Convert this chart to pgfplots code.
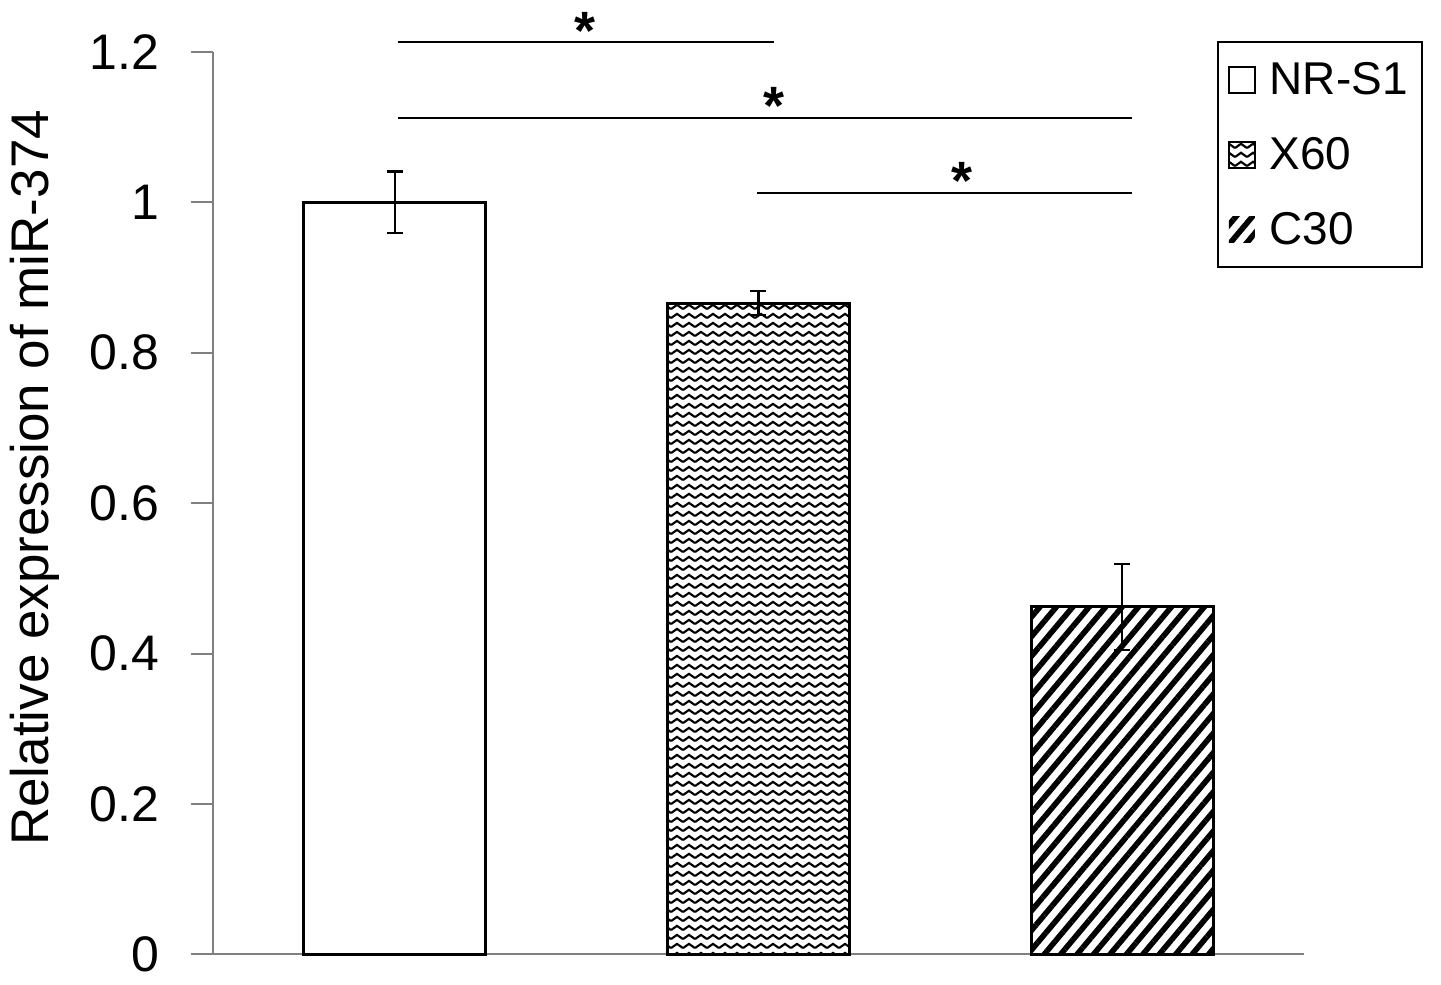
\documentclass[border=0pt]{standalone}
\usepackage{fontspec}
\setmainfont{Liberation Sans}
\usepackage{pgfplots}
\pgfplotsset{compat=1.18}
\usetikzlibrary{patterns.meta}

% zigzag fill used for the X60 bar
\tikzdeclarepattern{
  name=wavy,
  type=uncolored,
  bottom left={(0bp,0bp)},
  top right={(6bp,4.3bp)},
  tile size={(6bp,4.3bp)},
  code={
    \pgfsetlinewidth{1.1bp}
    \pgfpathmoveto{\pgfpoint{0bp}{1bp}}
    \pgfpathlineto{\pgfpoint{3bp}{3.2bp}}
    \pgfpathlineto{\pgfpoint{6bp}{1bp}}
    \pgfusepath{stroke}
  }
}

\pgfplotsset{
  boxed legend/.style={legend image code/.code={\draw[##1, line width=1bp] (2bp,-6.5bp) rectangle (15bp,6.5bp);}},
  bare legend/.style={legend image code/.code={\path[##1, draw=none] (2bp,-6.5bp) rectangle (15bp,6.5bp);}},
  sem bars/.style={error bars/.cd, y dir=both, y explicit,
    error bar style={line width=1.2bp, black},
    error mark options={rotate=90, mark size=4bp, line width=1.2bp}},
}

\begin{document}
\begin{tikzpicture}
\useasboundingbox (-106.5bp,-15bp) rectangle (614.5bp,477.5bp);
\begin{axis}[
    at={(0,0)}, anchor=south west,
    scale only axis,
    width=546bp, height=451.5bp,
    xmin=-0.5, xmax=2.5,
    ymin=0, ymax=1.2,
    xtick=\empty,
    ytick={0,0.2,0.4,0.6,0.8,1,1.2},
    axis x line=bottom, axis y line=left,
    axis line style={-, gray, line width=1bp},
    tick style={gray, line width=1bp},
    tick align=outside,
    major tick length=11bp,
    /pgf/number format/assume math mode=true,
    tick label style={font=\fontsize{25bp}{30bp}\selectfont},
    yticklabel style={xshift=-12.5bp},
    ylabel={Relative expression of miR-374},
    ylabel style={font=\fontsize{26.5bp}{30bp}\selectfont,
                  at={(axis description cs:-0.163,0.528)}, anchor=center},
    clip=false,
    ybar, bar width=91bp,
    every axis plot/.append style={bar shift=0pt, draw=black, line width=1.5bp},
    legend style={at={(rel axis cs:0.920,1.012)}, anchor=north west,
                  draw=black, line width=1bp,
                  font=\fontsize{23bp}{27bp}\selectfont,
                  row sep=16bp, inner xsep=5bp, inner ysep=8bp,
                  /tikz/every odd column/.append style={column sep=5bp},
                  cells={anchor=west}},
]

\addplot[fill=white, boxed legend, sem bars]
  coordinates {(0,1.0) +- (0,0.041)};
\addlegendentry{NR-S1}

\addplot[fill=white, pattern={wavy}, pattern color=black, boxed legend, sem bars]
  coordinates {(1,0.866) +- (0,0.016)};
\addlegendentry{X60}

\addplot[pattern={Lines[angle=50, distance=6.3bp, line width=2.8bp]}, pattern color=black,
  bare legend, sem bars]
  coordinates {(2,0.462) +- (0,0.057)};
\addlegendentry{C30}

% significance brackets
\draw[black, line width=1bp] (axis cs:0.008,1.213) -- (axis cs:1.044,1.213);
\draw[black, line width=1bp] (axis cs:0.008,1.112) -- (axis cs:2.027,1.112);
\draw[black, line width=1bp] (axis cs:0.995,1.013) -- (axis cs:2.027,1.013);
\node[font=\fontsize{27bp}{30bp}\selectfont\bfseries] at (axis cs:0.522,1.228) {*};
\node[font=\fontsize{27bp}{30bp}\selectfont\bfseries] at (axis cs:1.044,1.128) {*};
\node[font=\fontsize{27bp}{30bp}\selectfont\bfseries] at (axis cs:1.56,1.028) {*};

\end{axis}
\end{tikzpicture}
\end{document}
